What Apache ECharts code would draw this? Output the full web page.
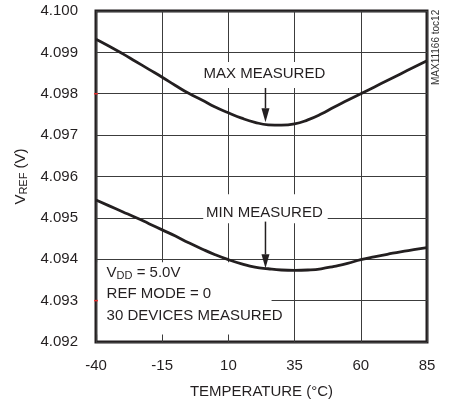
<!DOCTYPE html>
<html>
<head>
<meta charset="utf-8">
<script src="https://cdn.jsdelivr.net/npm/echarts@6/dist/echarts.min.js"></script>
<style>
  html, body { margin: 0; padding: 0; background: #fff; }
  #chart { width: 455px; height: 407px; }
</style>
</head>
<body>
<div id="chart"></div>
<script>
// temperature (°C)
const temps = [-40, -35, -30, -25, -20, -15, -10, -5, 0, 5, 10, 15, 20, 25, 30, 35, 40, 45, 50, 55, 60, 65, 70, 75, 80, 85];
// VREF (V), max of 30 devices
const maxMeasured = [4.09932, 4.09915, 4.09897, 4.09878, 4.09859, 4.09840, 4.09820, 4.09801, 4.09785, 4.09768,
  4.09754, 4.09741, 4.09731, 4.09725, 4.09724, 4.09727, 4.09737, 4.09751, 4.09768, 4.09784,
  4.09800, 4.09816, 4.09832, 4.09848, 4.09864, 4.09880];
// VREF (V), min of 30 devices
const minMeasured = [4.09543, 4.09529, 4.09515, 4.09501, 4.09486, 4.09471, 4.09456, 4.09440, 4.09425, 4.09411,
  4.09399, 4.09389, 4.09381, 4.09377, 4.09374, 4.09373, 4.09374, 4.09377, 4.09383, 4.09390,
  4.09399, 4.09406, 4.09412, 4.09418, 4.09423, 4.09428];
const xTicks = [-40, -15, 10, 35, 60, 85];
const yTicks = [4.092, 4.093, 4.094, 4.095, 4.096, 4.097, 4.098, 4.099, 4.100];

const font = "'Liberation Sans', Arial, sans-serif";
const ink = "#231f20";

const chart = echarts.init(document.getElementById("chart"));

const pair = arr => temps.map((t, i) => [t, arr[i]]);

chart.setOption({
  animation: false,
  grid: { left: 96, right: 28, top: 11, bottom: 65, show: true, borderColor: ink, borderWidth: 3 },
  xAxis: {
    type: "value",
    min: xTicks[0],
    max: xTicks[xTicks.length - 1],
    interval: 25,
    name: "TEMPERATURE (°C)",
    nameLocation: "middle",
    nameGap: 42,
    nameTextStyle: { fontFamily: font, fontSize: 15, color: ink },
    axisLine: { show: false },
    axisTick: { show: false },
    axisLabel: { fontFamily: font, fontSize: 15, color: ink, margin: 16 },
    splitLine: { lineStyle: { color: "#3c3c3c", width: 1 } }
  },
  yAxis: {
    type: "value",
    min: yTicks[0],
    max: yTicks[yTicks.length - 1],
    interval: 0.001,
    name: "{v|V}{s|REF}{v| (V)}",
    nameLocation: "middle",
    nameGap: 66,
    nameTextStyle: {
      rich: {
        v: { fontFamily: font, fontSize: 15, color: ink },
        s: { fontFamily: font, fontSize: 11, color: ink, padding: [6, 0, 0, 0] }
      }
    },
    axisLine: { show: false },
    axisTick: { show: false },
    axisLabel: { fontFamily: font, fontSize: 15, color: ink, margin: 18, formatter: v => v.toFixed(3) },
    splitLine: { lineStyle: { color: "#3c3c3c", width: 1 } }
  },
  series: [
    {
      name: "MAX MEASURED",
      type: "line",
      data: pair(maxMeasured),
      smooth: true,
      showSymbol: false,
      lineStyle: { color: ink, width: 2.8 },
      z: 3
    },
    {
      name: "MIN MEASURED",
      type: "line",
      data: pair(minMeasured),
      smooth: true,
      showSymbol: false,
      lineStyle: { color: ink, width: 2.8 },
      z: 3
    }
  ]
});

// annotations, placed in data units through the grid's scales
const px = (x, y) => chart.convertToPixel({ gridIndex: 0 }, [x, y]);

const whiteBox = (x0, y0, x1, y1) => {
  const a = px(x0, y0), b = px(x1, y1);
  return {
    type: "rect", z: 1,
    shape: { x: Math.min(a[0], b[0]), y: Math.min(a[1], b[1]), width: Math.abs(b[0] - a[0]), height: Math.abs(b[1] - a[1]) },
    style: { fill: "#fff" }
  };
};

const label = (x, y, text, align) => {
  const p = px(x, y);
  return {
    type: "text", z: 5, x: p[0], y: p[1],
    style: { text, fontFamily: font, fontSize: 15, fill: ink, align: align || "center", verticalAlign: "middle" }
  };
};

const arrow = (x, yFrom, yTo) => {
  const a = px(x, yFrom), b = px(x, yTo);
  const head = 14;
  return [
    { type: "line", z: 5, shape: { x1: a[0], y1: a[1], x2: b[0], y2: b[1] - head }, style: { stroke: ink, lineWidth: 1.5 } },
    { type: "polygon", z: 5, shape: { points: [[b[0] - 4, b[1] - head], [b[0] + 4, b[1] - head], [b[0], b[1]]] }, style: { fill: ink } }
  ];
};

const redTick = y => {
  const p = px(-40, y);
  return { type: "line", z: 6, shape: { x1: p[0] - 2, y1: p[1], x2: p[0] + 2, y2: p[1] }, style: { stroke: "#e03030", lineWidth: 1.5 } };
};

const gridRight = px(85, 4.1);
const vdd = px(-36, 4.09366);

chart.setOption({
  graphic: [
    whiteBox(0.5, 4.09877, 47.5, 4.09814),
    label(23.6, 4.09848, "MAX MEASURED"),
    ...arrow(24, 4.09814, 4.09731),

    whiteBox(0.5, 4.09557, 47.5, 4.09487),
    label(23.6, 4.09511, "MIN MEASURED"),
    ...arrow(24, 4.09491, 4.09378),

    whiteBox(-39.3, 4.09393, 26.3, 4.09218),
    {
      type: "text", z: 5, x: vdd[0], y: vdd[1],
      style: {
        text: "{v|V}{s|DD}{v| = 5.0V}",
        verticalAlign: "middle",
        rich: {
          v: { fontFamily: font, fontSize: 15, fill: ink },
          s: { fontFamily: font, fontSize: 11, fill: ink, padding: [6, 0, 0, 0] }
        }
      }
    },
    label(-36, 4.09317, "REF MODE = 0", "left"),
    label(-36, 4.09264, "30 DEVICES MEASURED", "left"),

    redTick(4.098),
    redTick(4.093),

    {
      type: "text", z: 5, x: gridRight[0] + 9, y: gridRight[1] + 74, rotation: Math.PI / 2,
      style: { text: "MAX11166 toc12", fontFamily: font, fontSize: 10, fill: "#333", verticalAlign: "middle" }
    }
  ]
});

window.addEventListener("resize", () => chart.resize());
</script>
</body>
</html>
